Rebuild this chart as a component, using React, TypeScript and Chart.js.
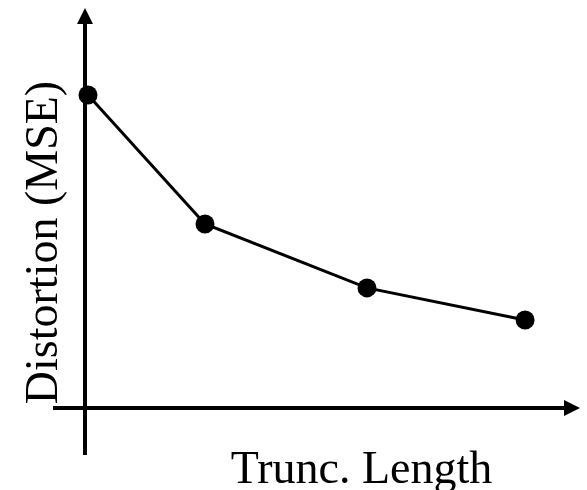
import React, { useEffect, useRef } from "react";
import { Chart, registerables } from "chart.js";

Chart.register(...registerables);

const truncLength = [0.1, 4, 9.4, 14.67];
const distortion = [10.03, 5.9, 3.85, 2.82];
const xLabel = "Trunc. Length";
const yLabel = "Distortion (MSE)";

const axesPlugin = {
  id: "arrowAxes",
  afterDatasetsDraw(chart: any) {
    const { ctx, scales } = chart;
    const xs = scales.x;
    const ys = scales.y;
    const ox = xs.getPixelForValue(0);
    const oy = ys.getPixelForValue(0);
    const xStart = xs.getPixelForValue(-1.067);
    const xEnd = xs.getPixelForValue(16.5);
    const yStart = ys.getPixelForValue(-1.506);
    const yEnd = ys.getPixelForValue(12.82);
    ctx.save();
    ctx.strokeStyle = "#000";
    ctx.fillStyle = "#000";
    ctx.lineWidth = 4;
    ctx.lineCap = "butt";
    // x axis
    ctx.beginPath();
    ctx.moveTo(xStart, oy);
    ctx.lineTo(xEnd - 10, oy);
    ctx.stroke();
    ctx.beginPath();
    ctx.moveTo(xEnd, oy);
    ctx.lineTo(xEnd - 16, oy - 8);
    ctx.lineTo(xEnd - 16, oy + 8);
    ctx.closePath();
    ctx.fill();
    // y axis
    ctx.beginPath();
    ctx.moveTo(ox, yStart);
    ctx.lineTo(ox, yEnd + 10);
    ctx.stroke();
    ctx.beginPath();
    ctx.moveTo(ox, yEnd);
    ctx.lineTo(ox - 8, yEnd + 16);
    ctx.lineTo(ox + 8, yEnd + 16);
    ctx.closePath();
    ctx.fill();
    // labels
    ctx.font = '46px "Liberation Serif", "Times New Roman", serif';
    ctx.textAlign = "center";
    ctx.textBaseline = "alphabetic";
    ctx.fillText(xLabel, 361.5, 483);
    ctx.translate(57, 242.5);
    ctx.rotate(-Math.PI / 2);
    ctx.fillText(yLabel, 0, 0);
    ctx.restore();
  },
};

export default function App() {
  const ref = useRef<HTMLCanvasElement | null>(null);
  useEffect(() => {
    if (!ref.current) return;
    const chart = new Chart(ref.current, {
      type: "scatter",
      data: {
        datasets: [
          {
            data: truncLength.map((x, i) => ({ x, y: distortion[i] })),
            showLine: true,
            borderColor: "#000",
            backgroundColor: "#000",
            borderWidth: 3,
            pointRadius: 9.5,
            pointBorderWidth: 0,
            pointBackgroundColor: "#000",
            clip: false as any,
          },
        ],
      },
      options: {
        responsive: false,
        animation: false,
        devicePixelRatio: 1,
        layout: { padding: 0, autoPadding: false } as any,
        plugins: { legend: { display: false }, tooltip: { enabled: false } },
        scales: {
          x: { type: "linear", display: false, min: -85 / 30, max: (587 - 85) / 30 },
          y: { type: "linear", display: false, min: -82 / 31.2, max: 408 / 31.2 },
        },
      },
      plugins: [axesPlugin],
    });
    return () => chart.destroy();
  }, []);
  return (
    <div style={{ position: "absolute", left: 0, top: 0, width: 587, height: 490, background: "#fff" }}>
      <canvas ref={ref} width={587} height={490} />
    </div>
  );
}
